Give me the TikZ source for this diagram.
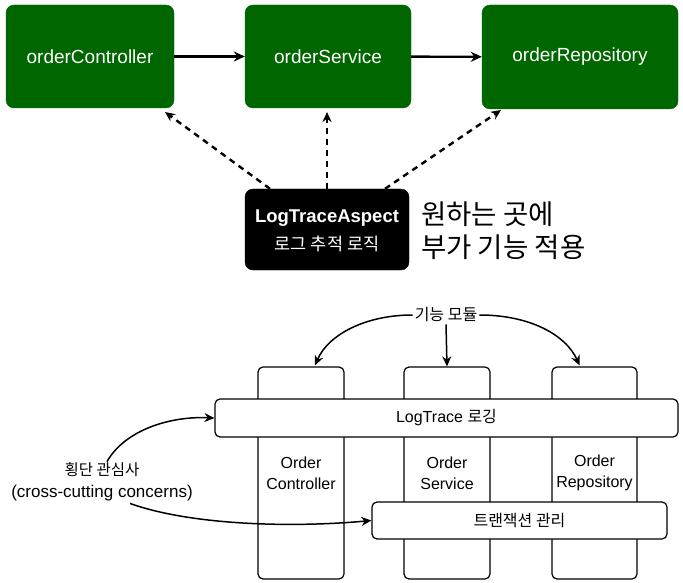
\documentclass[tikz,border=0pt]{standalone}
\usepackage{fontspec}
\setmainfont{Liberation Sans}
\newfontfamily\kr{Noto Sans CJK KR}
\usetikzlibrary{arrows.meta,calc}
\definecolor{dgreen}{RGB}{0,102,0}
\tikzset{
  gbox/.style={draw=dgreen,fill=dgreen,rounded corners=8pt,text=white,font=\fontsize{19}{22}\selectfont,inner sep=0pt},
  abox/.style={draw=black,fill=black,rounded corners=8pt,inner sep=0pt},
  atext/.style={text=white,inner sep=0pt},
  colbox/.style={draw=black,line width=1.2pt,rounded corners=5pt,fill=white,inner sep=0pt,minimum width=86pt,minimum height=212pt,align=center,font=\fontsize{16}{21}\selectfont},
  hbox/.style={draw=black,line width=1.2pt,rounded corners=5pt,fill=white,inner sep=0pt,font=\fontsize{16}{19}\selectfont},
  solidarr/.style={line width=2.4pt,-{Stealth[length=11pt,width=10pt]}},
  dasharr/.style={line width=2.4pt,dash pattern=on 6pt off 5pt,-{Stealth[length=10pt,width=9pt]}},
  curarr/.style={line width=1.5pt,-{Stealth[length=10pt,width=9pt]}}
}
\begin{document}
\begin{tikzpicture}[x=1pt,y=-1pt]
\useasboundingbox (0,0) rectangle (683,583);
% top
\node[gbox,minimum width=168pt,minimum height=103pt] (ctl) at (90,56.5) {orderController};
\node[gbox,minimum width=166pt,minimum height=103pt] (svc) at (328,56.5) {orderService};
\node[gbox,minimum width=196pt,minimum height=104pt] (rep) at (580,57) {orderRepository};
\draw[solidarr] (ctl) -- (svc);
\draw[solidarr] (svc) -- (rep);
\node[abox,minimum width=164pt,minimum height=81pt] (asp) at (327,229.5) {};
\node[atext,font=\fontsize{18.5}{22}\selectfont\bfseries] (asp1) at (327,218) {LogTraceAspect};
\node[atext,font=\kr\fontsize{17.5}{20}\selectfont] (asp2) at (327,244) {로그 추적 로직};
\node[anchor=west,align=left,inner sep=0pt,font=\kr\fontsize{27.5}{33}\selectfont] (side) at (421,231) {원하는 곳에\\부가 기능 적용};
\coordinate (e1) at (165,112);
\coordinate (e2) at (327,112);
\coordinate (e3) at (501,110);
\draw[dasharr] ($(asp.north)+(-57,0)$) -- (e1);
\draw[dasharr] (asp.north) -- (e2);
\draw[dasharr] ($(asp.north)+(58,0)$) -- (e3);
% bottom
\node[colbox] (colA) at (301,473) {Order\\Controller};
\node[colbox] (colB) at (447,473) {Order\\Service};
\node[colbox,minimum width=85pt] (colC) at (594.5,473) {Order\\Repository};
\node[hbox,minimum width=463pt,minimum height=38pt] (log) at (446.5,418) {LogTrace {\kr 로깅}};
\node[hbox,minimum width=295pt,minimum height=37pt] (tx) at (519.5,520.5) {\kr 트랜잭션 관리};
\node[inner sep=2pt,font=\kr\fontsize{16}{19}\selectfont] (mod) at (446,315) {기능 모듈};
\draw[curarr] (mod.west) .. controls (365,315) and (328,335) .. ($(colA.north)+(14,-1)$);
\draw[curarr] (mod.east) .. controls (530,315) and (566,335) .. ($(colC.north)+(-15,-1)$);
\draw[curarr] (mod.south) -- (colB.north);
\node[align=center,inner sep=1pt,font=\fontsize{17}{22}\selectfont] (cc) at (102,482) {{\kr\fontsize{15.5}{18}\selectfont 횡단 관심사}\\(cross-cutting concerns)};
\draw[curarr] ($(cc.north)+(5,0)$) .. controls (125,430) and (170,416) .. (log.west);
\draw[curarr] ($(cc.south)+(28,1)$) .. controls (190,525) and (290,528) .. (tx.west);
\end{tikzpicture}
\end{document}
